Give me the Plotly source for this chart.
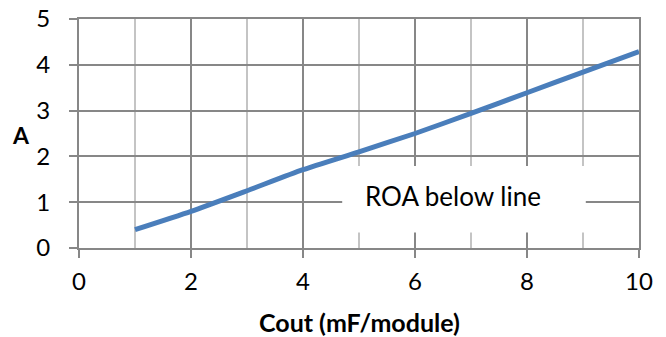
import plotly.graph_objects as go

cout_mf = [1, 2, 3, 4, 5, 6, 7, 8, 9, 10]
amps = [0.40, 0.80, 1.25, 1.71, 2.10, 2.50, 2.94, 3.39, 3.84, 4.29]
x_title = "Cout (mF/module)"
y_title = "A"
note_text = "ROA below line"

FONT = "Lato"
GRID = "#878787"
MINOR = "#c4c4c4"

W, H = 666, 337
ML, MR, MT, MB = 79, 27, 19, 89
PW, PH = W - ML - MR, H - MT - MB


def px_to_paper(px, py):
    return (px - ML) / PW, (H - MB - py) / PH


fig = go.Figure()
fig.add_trace(go.Scatter(
    x=cout_mf, y=amps, mode="lines",
    line=dict(color="#4a7ebb", width=5, shape="spline", smoothing=0.6),
    showlegend=False, hoverinfo="skip",
))

fig.add_shape(type="rect", xref="x", yref="y", x0=4.70, x1=9.05, y0=0.34, y1=1.79,
              fillcolor="white", line=dict(width=0), layer="between")
fig.add_annotation(x=6.67, y=1.14, xref="x", yref="y", text=note_text, showarrow=False,
                   font=dict(family=FONT, size=26, color="#000000"))

ax, ay = px_to_paper(21, 135)
fig.add_annotation(x=ax, y=ay, xref="paper", yref="paper", text="<b>" + y_title + "</b>",
                   showarrow=False, xanchor="center", yanchor="middle",
                   font=dict(family=FONT, size=23, color="#000000"))
tx, ty = px_to_paper(359, 322)
fig.add_annotation(x=tx, y=ty, xref="paper", yref="paper", text="<b>" + x_title + "</b>",
                   showarrow=False, xanchor="center", yanchor="middle",
                   font=dict(family=FONT, size=25, color="#000000"))

fig.update_layout(
    width=W, height=H,
    margin=dict(l=ML, r=MR, t=MT, b=MB),
    paper_bgcolor="white", plot_bgcolor="white",
    font=dict(family=FONT, size=24, color="#000000"),
)

fig.update_xaxes(
    range=[0, 10], tick0=0, dtick=2, showgrid=True, gridcolor=GRID, gridwidth=2,
    minor=dict(dtick=1, tick0=0, showgrid=True, gridcolor=MINOR, gridwidth=2),
    ticks="outside", ticklen=8, tickwidth=2, tickcolor=GRID,
    showline=True, linecolor=GRID, linewidth=2, mirror=True, zeroline=False,
    tickfont=dict(family=FONT, size=24), ticklabelstandoff=3, automargin=False,
)
fig.update_yaxes(
    range=[0, 5], tick0=0, dtick=1, showgrid=True, gridcolor=GRID, gridwidth=2,
    ticks="outside", ticklen=8, tickwidth=2, tickcolor=GRID,
    showline=True, linecolor=GRID, linewidth=2, mirror=True, zeroline=False,
    tickfont=dict(family=FONT, size=24), ticklabelstandoff=14, automargin=False,
)

fig.write_html(
    "out.html",
    config={"displayModeBar": False},
    post_script="document.body.style.margin='0';document.body.style.padding='0';"
                "document.body.style.overflow='hidden';",
)
